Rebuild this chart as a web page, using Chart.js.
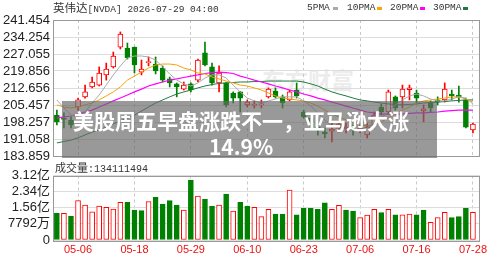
<!DOCTYPE html>
<html lang="zh">
<head>
<meta charset="utf-8">
<title>英伟达 NVDA 日K</title>
<script src="https://cdn.jsdelivr.net/npm/chart.js@4.4.1/dist/chart.umd.min.js"></script>
<style>
  html, body { margin: 0; padding: 0; background: #fff; }
  #wrap { position: relative; width: 500px; height: 260px; overflow: hidden; }
  canvas { position: absolute; left: 0; }
  #kline { top: 0; }
  #vol { top: 162px; }
  .txt { position: absolute; white-space: nowrap; color: #333; line-height: 14px; }
  .cjk { font-family: "Noto Sans CJK SC", sans-serif; }
  .mono { font-family: "Liberation Mono", "DejaVu Sans Mono", monospace; }
  .dash { position: absolute; width: 5px; height: 3px; }
  .mark {
    position: absolute; left: 262px; top: 66px; white-space: nowrap;
    font: bold 23px/26px "Noto Sans CJK SC", sans-serif; color: #ececec;
  }
  .news {
    position: absolute; left: 62px; top: 101px; width: 375px; height: 57px;
    box-sizing: border-box; padding: 6px 17px 0 0;
    background: rgba(105, 105, 105, 0.68); color: #fff; text-align: center;
    font: bold 21px/26px "Noto Sans CJK SC", sans-serif;
  }
</style>
</head>
<body>
<div id="wrap">
  <div class="mark">东方财富</div>
  <canvas id="kline" width="500" height="170"></canvas>
  <canvas id="vol" width="500" height="98"></canvas>

  <div class="txt" style="left:53px; top:0px;"><span class="cjk" style="font-size:11.5px">英伟达</span><span class="mono" style="font-size:9.5px">[NVDA] 2026-07-29 04:00</span></div>

  <div class="txt mono" style="left:307px; top:1px; font-size:9.5px">5PMA</div>
  <div class="dash" style="left:333px; top:7px; background:#aaaaaa"></div>
  <div class="txt mono" style="left:347px; top:1px; font-size:9.5px">10PMA</div>
  <div class="dash" style="left:377px; top:7px; background:#ffa500"></div>
  <div class="txt mono" style="left:390px; top:1px; font-size:9.5px">20PMA</div>
  <div class="dash" style="left:420px; top:7px; background:#ff00ff"></div>
  <div class="txt mono" style="left:433px; top:1px; font-size:9.5px">30PMA</div>
  <div class="dash" style="left:463px; top:7px; background:#1e7b3c"></div>

  <div class="txt" style="left:55px; top:160px;"><span class="cjk" style="font-size:11px">成交量</span><span class="mono" style="font-size:10px">:134111494</span></div>

  <div class="news">美股周五早盘涨跌不一，亚马逊大涨<br>14.9%</div>
</div>

<script>
// ---------- data ----------
const dates = [
  '05-01', '05-04', '05-05', '05-06', '05-07', '05-08', '05-11', '05-12', '05-13', '05-14',
  '05-15', '05-18', '05-19', '05-20', '05-21', '05-22', '05-26', '05-27', '05-28', '05-29',
  '06-01', '06-02', '06-03', '06-04', '06-05', '06-08', '06-09', '06-10', '06-11', '06-12',
  '06-15', '06-16', '06-17', '06-18', '06-22', '06-23', '06-24', '06-25', '06-26', '06-29',
  '06-30', '07-01', '07-02', '07-06', '07-07', '07-08', '07-09', '07-10', '07-13', '07-14',
  '07-15', '07-16', '07-17', '07-20', '07-21', '07-22', '07-23', '07-24', '07-27', '07-28'
];
const tickDates = ['05-06', '05-18', '05-29', '06-10', '06-23', '07-06', '07-16', '07-28'];

const openP = [
  201.2, 199.9, 199.1, 204.6, 208.9, 213.1, 213.9, 218.2, 221.6, 230.0,
  229.6, 230.0, 219.4, 223.4, 222.8, 221.1, 216.5, 214.4, 212.2, 214.4,
  216.0, 227.5, 221.6, 214.8, 214.8, 210.5, 211.0, 205.5, 205.3, 205.5,
  208.9, 211.4, 208.9, 207.6, 211.8, 202.5, 199.9, 196.1, 194.0, 194.4,
  195.7, 195.3, 196.1, 194.9, 192.8, 197.0, 204.6, 202.5, 208.9, 208.9,
  212.0, 210.5, 202.9, 206.3, 207.6, 207.6, 210.1, 209.7, 207.6, 194.9
];
const highP = [
  203.3, 202.1, 200.4, 208.4, 213.9, 217.3, 221.6, 223.2, 227.9, 236.4,
  231.7, 230.0, 224.5, 225.8, 225.8, 222.0, 217.3, 214.8, 215.2, 214.8,
  224.9, 232.1, 223.2, 222.0, 215.0, 211.0, 211.2, 207.6, 207.2, 207.6,
  212.7, 212.7, 209.7, 211.8, 214.8, 203.3, 201.2, 200.0, 195.7, 197.8,
  199.1, 197.8, 197.0, 197.0, 197.8, 202.5, 205.9, 211.8, 209.3, 213.9,
  213.9, 211.8, 205.5, 207.2, 208.9, 214.8, 211.8, 213.5, 208.4, 197.8
];
const lowP = [
  197.0, 195.7, 195.7, 203.3, 208.4, 212.7, 213.5, 216.0, 221.1, 229.2,
  224.9, 219.0, 218.2, 222.0, 218.6, 215.2, 213.1, 208.9, 211.8, 211.0,
  215.2, 222.0, 213.9, 211.0, 204.6, 206.3, 202.5, 204.6, 204.2, 204.2,
  208.4, 208.4, 204.2, 207.2, 208.4, 199.9, 194.9, 192.7, 191.5, 189.8,
  194.0, 193.6, 192.7, 193.6, 191.5, 195.7, 201.2, 201.6, 203.3, 204.2,
  207.6, 206.3, 198.3, 202.5, 205.5, 206.7, 207.6, 206.7, 195.7, 193.6
];
const closeP = [
  198.3, 199.4, 197.0, 207.6, 211.0, 215.2, 219.0, 220.7, 226.2, 235.5,
  225.4, 222.4, 220.7, 223.8, 219.9, 216.0, 214.8, 213.1, 213.9, 211.8,
  224.5, 222.4, 214.8, 219.0, 205.5, 208.4, 208.4, 206.7, 205.6, 206.0,
  212.2, 208.9, 206.3, 211.0, 209.3, 200.4, 198.3, 195.3, 193.2, 195.3,
  197.4, 196.1, 195.3, 195.7, 196.1, 201.2, 202.5, 211.0, 204.2, 212.2,
  212.7, 208.4, 203.8, 204.2, 206.7, 212.2, 209.3, 208.9, 196.1, 197.4
];

const ma5 = [
  207.6, 204.2, 201.2, 200.4, 202.5, 206.3, 209.7, 213.9, 218.2, 222.0,
  225.4, 226.2, 226.2, 225.8, 224.5, 221.6, 218.6, 216.0, 214.4, 213.5,
  214.8, 216.9, 218.2, 218.2, 216.9, 213.9, 211.0, 208.4, 207.2, 206.3,
  207.2, 208.0, 208.9, 208.9, 208.9, 207.2, 205.0, 202.1, 199.1, 196.6,
  194.9, 194.9, 194.9, 195.3, 195.7, 197.4, 200.0, 202.5, 205.5, 207.6,
  209.3, 210.1, 209.3, 208.0, 207.2, 207.2, 208.0, 208.9, 208.4, 205.9
];
const ma10 = [
  205.5, 204.6, 204.2, 204.6, 205.5, 206.3, 207.6, 209.3, 211.0, 213.1,
  216.0, 217.7, 219.4, 221.1, 222.4, 222.8, 222.8, 222.4, 221.1, 220.3,
  219.0, 218.6, 217.3, 216.5, 215.6, 214.8, 213.9, 213.5, 212.7, 211.8,
  210.5, 209.3, 208.4, 208.0, 207.6, 207.2, 206.3, 205.0, 203.3, 201.6,
  200.4, 199.1, 197.8, 197.0, 196.6, 197.0, 198.3, 200.0, 201.6, 203.3,
  204.6, 206.3, 207.2, 207.6, 208.0, 208.4, 208.9, 208.9, 208.0, 206.7
];
const ma20 = [
  199.9, 200.4, 200.8, 201.6, 202.5, 203.3, 204.6, 205.9, 207.2, 208.4,
  209.7, 211.0, 212.2, 213.5, 214.4, 215.2, 216.0, 216.5, 217.1, 217.7,
  218.2, 218.8, 219.2, 219.4, 219.2, 218.8, 217.7, 216.9, 216.0, 215.2,
  214.4, 213.5, 212.7, 211.8, 211.0, 210.1, 209.3, 208.4, 207.6, 206.7,
  205.9, 205.0, 204.2, 203.3, 202.5, 202.1, 201.6, 201.6, 201.6, 201.6,
  201.9, 202.1, 202.1, 202.3, 202.5, 202.9, 203.1, 203.3, 203.3, 203.3
];
const ma30 = [
  189.4, 190.0, 190.6, 191.5, 192.8, 194.0, 194.9, 196.1, 197.4, 198.7,
  199.9, 201.2, 202.9, 204.6, 206.3, 207.6, 208.9, 210.1, 211.0, 211.8,
  212.7, 213.5, 214.1, 214.6, 214.8, 215.0, 215.2, 215.2, 215.4, 215.4,
  215.6, 215.6, 215.6, 215.6, 215.6, 215.2, 214.4, 213.5, 212.2, 211.0,
  210.1, 209.3, 208.4, 207.6, 207.2, 206.7, 206.3, 205.9, 205.7, 205.5,
  205.7, 205.9, 206.3, 206.5, 206.7, 206.9, 207.2, 207.4, 207.6, 207.6
];

// volume in shares, and whether the volume bar is drawn as "up" (red hollow)
const volume = [
  129.0e6, 129.0e6, 116.0e6, 189.9e6, 169.1e6, 136.7e6, 164.3e6, 158.0e6, 149.8e6, 182.2e6,
  182.2e6, 145.0e6, 141.6e6, 185.1e6, 206.3e6, 174.0e6, 189.9e6, 169.1e6, 145.0e6, 289.9e6,
  212.6e6, 196.7e6, 164.3e6, 169.1e6, 222.3e6, 140.1e6, 182.2e6, 164.3e6, 158.0e6, 112.6e6,
  148.3e6, 125.6e6, 125.6e6, 241.6e6, 122.2e6, 153.2e6, 153.2e6, 148.3e6, 180.2e6, 148.3e6,
  167.7e6, 145.0e6, 140.1e6, 107.8e6, 120.8e6, 148.3e6, 131.9e6, 148.3e6, 122.2e6, 122.2e6,
  125.6e6, 122.2e6, 145.0e6, 85.5e6, 107.8e6, 133.8e6, 107.8e6, 112.6e6, 153.2e6, 134.1e6
];
const volUp = [
  0, 1, 0, 1, 1, 1, 1, 1, 1, 1,
  0, 0, 0, 1, 0, 0, 0, 0, 1, 0,
  1, 0, 0, 1, 0, 1, 0, 0, 1, 1,
  1, 0, 0, 1, 0, 0, 0, 0, 0, 1,
  1, 0, 0, 1, 1, 1, 0, 1, 0, 1,
  1, 0, 0, 1, 1, 1, 0, 0, 0, 1
];

const priceTicks = [183.859, 191.058, 198.257, 205.457, 212.656, 219.856, 227.055, 234.254, 241.454];
const volTicks = [0, 77.92e6, 155.84e6, 233.76e6, 311.68e6];
const volTickLabels = ['0', '7792万', '1.56亿', '2.34亿', '3.12亿'];

// ---------- styling ----------
const UP = '#ff0000';
const DOWN = '#008000';
const AXIS_FONT = { family: '"Liberation Sans", "Noto Sans CJK SC", sans-serif', size: 13 };
const tickIdx = tickDates.map(d => dates.indexOf(d));
const X_MIN = -0.55, X_MAX = 60;

// grey frame around each plot area
const framePlugin = {
  id: 'frame',
  beforeDatasetsDraw(chart) {
    const { ctx, chartArea: a } = chart;
    ctx.save();
    ctx.strokeStyle = '#999';
    ctx.lineWidth = 1;
    ctx.strokeRect(Math.round(a.left) + 0.5, Math.round(a.top) + 0.5,
                   Math.round(a.width) - 1, Math.round(a.height));
    ctx.restore();
  }
};

function xScale(showLabels) {
  return {
    type: 'linear', min: X_MIN, max: X_MAX, offset: false,
    afterBuildTicks: s => { s.ticks = tickIdx.map(v => ({ value: v })); },
    ticks: {
      display: showLabels, autoSkip: false, maxRotation: 0, color: '#ee1111', padding: 3,
      font: { family: '"Liberation Sans", sans-serif', size: 11 },
      callback: v => dates[v]
    },
    grid: { color: '#c8c8c8', drawTicks: false, offset: false },
    border: { display: false, dash: [3, 3] },
    afterFit: s => { s.height = showLabels ? 20 : 0; }
  };
}

function yScale(ticks, labelOf) {
  return {
    min: ticks[0], max: ticks[ticks.length - 1],
    afterBuildTicks: s => { s.ticks = ticks.map(v => ({ value: v })); },
    ticks: { autoSkip: false, color: '#222', font: AXIS_FONT, padding: 3, callback: labelOf },
    grid: { color: '#dddddd', drawTicks: false },
    border: { display: false },
    afterFit: s => { s.width = 53; }
  };
}

const isUp = i => closeP[i] >= openP[i];

// ---------- K line chart ----------
new Chart(document.getElementById('kline'), {
  data: {
    datasets: [
      { type: 'line', label: '5PMA', data: ma5.map((v, i) => ({ x: i, y: v })), borderColor: '#aaaaaa', borderWidth: 1, pointRadius: 0, order: 0 },
      { type: 'line', label: '10PMA', data: ma10.map((v, i) => ({ x: i, y: v })), borderColor: '#f5a300', borderWidth: 1, pointRadius: 0, order: 0 },
      { type: 'line', label: '20PMA', data: ma20.map((v, i) => ({ x: i, y: v })), borderColor: '#ff00ff', borderWidth: 1.2, pointRadius: 0, order: 0 },
      { type: 'line', label: '30PMA', data: ma30.map((v, i) => ({ x: i, y: v })), borderColor: '#1e7b3c', borderWidth: 1, pointRadius: 0, order: 0 },
      {
        type: 'bar', label: 'body',
        data: openP.map((o, i) => ({ x: i, y: [o, closeP[i]] })),
        backgroundColor: openP.map((o, i) => isUp(i) ? '#ffffff' : DOWN),
        borderColor: openP.map((o, i) => isUp(i) ? UP : DOWN),
        borderWidth: 1, borderSkipped: false, minBarLength: 1,
        barThickness: 5, grouped: false, order: 1
      },
      {
        type: 'bar', label: 'wick',
        data: lowP.map((l, i) => ({ x: i, y: [l, highP[i]] })),
        backgroundColor: lowP.map((l, i) => isUp(i) ? UP : DOWN),
        barThickness: 1, grouped: false, order: 2
      }
    ]
  },
  options: {
    responsive: false,
    animation: false,
    layout: { padding: { top: 20, right: 20, bottom: 14, left: 0 } },
    plugins: { legend: { display: false }, tooltip: { enabled: false } },
    scales: {
      x: xScale(false),
      y: yScale(priceTicks, v => v.toFixed(3))
    }
  },
  plugins: [framePlugin]
});

// ---------- volume chart ----------
new Chart(document.getElementById('vol'), {
  type: 'bar',
  data: {
    datasets: [{
      label: '成交量',
      data: volume.map((v, i) => ({ x: i, y: v })),
      backgroundColor: volUp.map(u => u ? '#ffffff' : DOWN),
      borderColor: volUp.map(u => u ? UP : DOWN),
      borderWidth: 1, borderSkipped: false,
      barThickness: 5, grouped: false
    }]
  },
  options: {
    responsive: false,
    animation: false,
    layout: { padding: { top: 13.5, right: 20, bottom: 0, left: 0 } },
    plugins: { legend: { display: false }, tooltip: { enabled: false } },
    scales: {
      x: xScale(true),
      y: yScale(volTicks, (v, i) => volTickLabels[i])
    }
  },
  plugins: [framePlugin]
});
</script>
</body>
</html>
